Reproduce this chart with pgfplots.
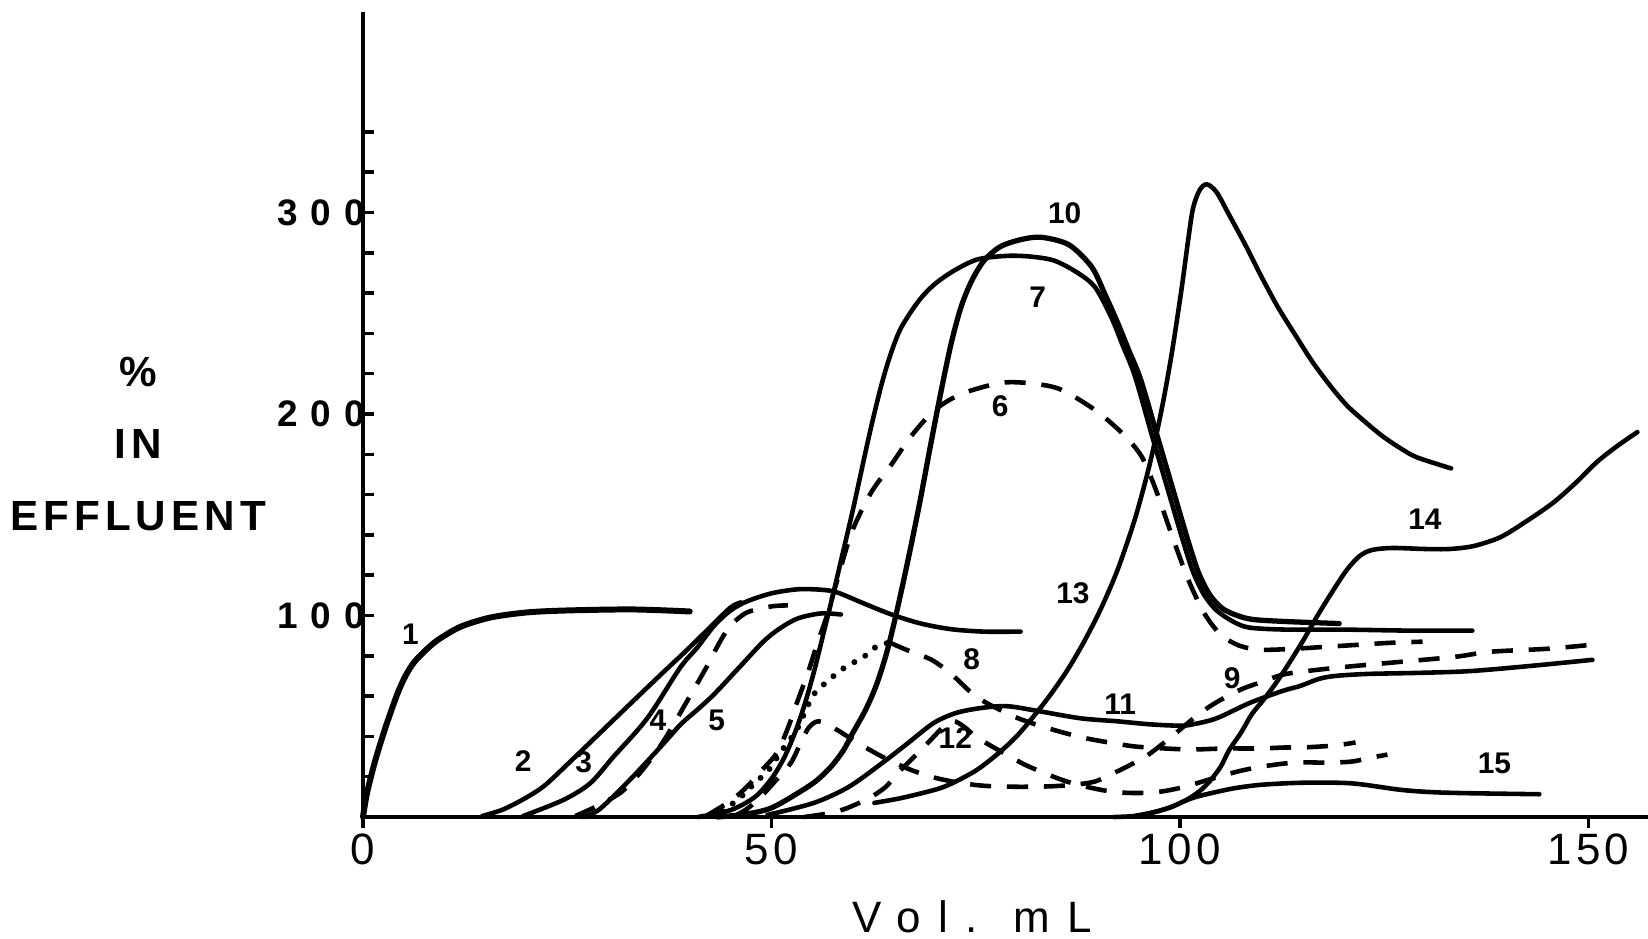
\documentclass[border=0pt]{standalone}
\usepackage{fontspec}
\setmainfont{Liberation Sans}
\newfontfamily\ticky[LetterSpace=35]{Liberation Sans}
\newfontfamily\tickx[LetterSpace=10]{Liberation Sans}
\newfontfamily\lab[LetterSpace=12]{Liberation Sans}
\newfontfamily\xlab[LetterSpace=40]{Liberation Sans}
\usepackage{pgfplots}
\pgfplotsset{compat=1.18}

\pgfplotsset{
  crv/.style={black, line width=1.3pt, line join=round, line cap=round, smooth},
  dsh/.style={crv, dash pattern=on 6pt off 4.5pt, line cap=butt},
  dts/.style={crv, line width=1.7pt, dash pattern=on 0pt off 3.6pt, line cap=round},
}
\tikzset{num/.style={font=\fontsize{8.5}{9}\selectfont\bfseries, inner sep=0pt}}

\begin{document}
\begin{tikzpicture}
\useasboundingbox (-3.63,-1.21) rectangle (12.85,8.17);
\begin{axis}[
  at={(0,0)}, anchor=south west,
  scale only axis, width=12.85cm, height=8.05cm,
  xmin=0, xmax=157.3, ymin=0, ymax=399.5,
  axis x line*=bottom, axis y line*=left,
  axis line style={-, line width=1.4pt},
  xtick={0,50,100,150}, xticklabels={0,50,100,150},
  ytick={100,200,300}, yticklabels={100,200,300},
  minor ytick={20,40,60,80,120,140,160,180,220,240,260,280,320,340},
  xtick align=outside, ytick align=inside,
  major tick length=0.11cm, minor tick length=0.11cm,
  tick style={line width=1pt, black},
  xticklabel style={font=\fontsize{12.5}{12}\tickx, yshift=0.07cm},
  yticklabel style={font=\fontsize{10.5}{12}\ticky\bfseries, xshift=0.14cm},
  xlabel={Vol.\hspace{0.8em}mL},
  xlabel style={font=\fontsize{12.5}{14}\xlab, at={(axis description cs:0.474,-0.124)}, anchor=center},
  ylabel={\%\\IN\\EFFLUENT},
  ylabel style={rotate=-90, font=\fontsize{12}{20.5}\lab\bfseries, align=center,
    at={(axis description cs:-0.175,0.463)}, anchor=center},
  clip=false,
]
% 1
\addplot[crv, line width=1.7pt] coordinates {(0,0) (0.5,12) (1.5,28) (2.8,45) (4.2,61) (5.2,70) (6.3,77) (8,84) (9.4,88.5) (12,94.5) (15.6,99) (20,101.5) (25,102.5) (33,103) (40,102)};
% 2
\addplot[crv] coordinates {(14.6,0.5) (17,3.5) (19.5,8.5) (22.2,15.5) (25.5,28) (28.7,40.5) (32.8,56.5) (36.8,72) (39.3,81.5) (42.2,93) (45,104) (46.3,106.5)};
% 3
\addplot[crv] coordinates {(19.6,0.5) (24.5,8.4) (27.8,16.7) (30.6,29.6) (34.8,49) (38.8,74) (40.9,84) (43,95) (45,102.5) (47,107) (50,111) (53.2,113) (56,112.8) (58,111.5) (61.3,106) (64.7,100.5) (68.3,96) (72,93.2) (76,92) (80.5,92)};
% 4
\addplot[dsh] coordinates {(26,0.5) (28.7,5.5) (31.5,12) (33.5,20) (35.2,28.5) (37,39) (39.6,57) (42,74) (43.7,87) (45,95) (47,101.5) (50,104.5) (52,105)};
% 5
\addplot[crv] coordinates {(27,0) (29,4) (32.8,19) (36.8,36.5) (38.9,46) (41,53.5) (43,61) (46,74) (49,87) (51,93.5) (53.2,98.5) (56,101) (58.5,100.5)};
% 6
\addplot[dsh] coordinates {(42,0.5) (45,8) (47,15) (49,24) (50.7,32) (52,44) (53.2,57.6) (54.5,72) (55.6,86) (56.8,100) (57.8,114) (59.8,141) (62.2,161) (64.7,175) (67.1,189) (70,202) (73.3,210) (78.2,215.5) (82.2,215) (85.5,212) (89.6,202) (92.9,190.6) (95.3,179) (97,163) (99,140) (101,118) (103,101) (105,90.5) (107.3,85) (110,83) (114,83.5) (118,84.5) (122,85.5) (126,86.5) (129.7,87)};
% 7
\addplot[crv] coordinates {(41,0) (45,3.4) (48,10) (50,19) (51.5,29) (52.8,41) (54,55) (55.2,72) (56.3,90) (57.4,108) (58.5,127) (60,153) (62,190) (63.5,215) (64.7,231) (65.9,243) (68,256) (70,264.5) (72.5,271.5) (75.3,276.8) (79,278.5) (82,278) (84.7,276) (87.5,270) (89.6,263) (91.6,248) (93,234) (94.5,218.7) (96.6,189) (98.7,160) (100.3,138) (101.6,121.7) (103,110) (104.5,102.5) (106.5,97) (108.5,94) (113,93) (120,93) (128,92.5) (135.8,92.5)};
% 10
\addplot[crv, line width=1.5pt] coordinates {(43.4,0) (47,1.5) (50,4.5) (53.2,11.8) (55.5,18) (57.3,25) (58.8,33) (60,42) (61.5,53) (62.8,65) (64,80) (65,96) (66,114) (67,133) (68.2,157) (69.5,185) (70.8,212) (72,235) (73.2,253) (74.5,266) (76,276) (78,283) (80.5,286.5) (83,287.7) (86.4,284) (89.2,273) (90.8,259.6) (92.3,246) (93.7,232) (95.2,217) (97.3,188) (99.4,159) (101,137) (102.3,121) (103.7,110) (105.2,103.5) (107,100) (109,98) (113,97) (119.5,96)};
% 8
\addplot[dts] coordinates {(44,3) (46,9) (48,17) (49.6,23) (51,31.5) (52.2,38) (53.2,44) (54.2,53) (55.2,61) (56.9,67.5) (58.9,74) (61.3,79.5) (63,85) (64.5,86.5)};
\addplot[dsh] coordinates {(64.5,86.5) (66.5,83) (69.6,78) (72,71) (74.5,61.6) (76.6,56) (80.2,49) (83.9,44) (88,39.5) (91.3,37) (94.5,35) (98.2,34) (101.5,33.5) (105.5,34) (109.7,34) (112.9,34.5) (115,34.5) (119,35.5) (121.5,37)};
% 9
\addplot[dsh] coordinates {(45.5,0.5) (47,4) (48.7,10) (50.5,18) (52.4,27) (53.6,37) (54.6,44.5) (55.8,47.5) (57.7,44) (59.5,39.5) (61.3,35) (64,29) (67,23.5) (70,19.5) (73,17) (76,15.5) (80,15) (84,15.2) (87,16) (89.5,17.5) (91.5,21) (94,26) (96,30.5) (98.4,38) (100.2,44) (102.3,51) (104.5,57) (107.6,63.5) (110.4,67.5) (113,71) (119,74) (127,77) (133.7,79.5) (138,82) (145,83.5) (151,85.7)};
% 11
\addplot[crv] coordinates {(49.5,1) (55.2,7) (59.4,14.8) (63.3,26) (66.5,36) (69.8,46.5) (72.5,51.5) (75.5,54) (78.8,55) (82.5,52.7) (87.8,49) (92.3,47.5) (96.3,46) (100,45.3) (101.6,46) (104.5,49) (108.6,56.7) (112.6,62.6) (114.7,65) (117,68.5) (119,70) (123,71) (129,71.5) (135.5,72.4) (143,75) (150.5,78)};
% 12
\addplot[dsh] coordinates {(54,0) (56.5,1.5) (59,4) (62,9.5) (64,15) (65.5,22) (67.5,30) (69.2,37) (71,44.5) (72.3,47.5) (73.5,45) (75,40) (77,35) (79,30.5) (81,26) (83,22.5) (85.5,18.5) (88,15.5) (91,13) (93.5,12) (96,12) (98,12.8) (100.6,15) (103.5,18.5) (107,22.5) (110,25) (114,27) (118,27) (121,27.5) (123.5,29.5) (125.4,31)};
% 13
\addplot[crv] coordinates {(62.6,7) (66,9.5) (70,13.5) (72,16.5) (75,23) (77.6,31) (80,40) (82.3,51) (84.3,61.5) (86.4,74) (88.4,88) (90.4,104) (92.4,123) (94.5,148) (96.3,175) (97.8,203) (99,230) (100.2,262) (101,286) (101.6,302) (102.4,311) (103.3,314) (104.5,310) (106,299) (108,284) (110,268) (112,253) (114,240) (116.2,226) (118.5,213.5) (120.5,204) (122.7,196) (124.8,189) (127,183) (129,178.5) (133.2,173)};
% 14
\addplot[crv] coordinates {(92,0) (94.5,0.5) (96.6,2.2) (98.6,4.5) (100.6,8) (102.3,12.5) (103.6,17.5) (105,25) (106,33) (107.5,42) (108.8,51) (110.2,58) (111.5,65) (113,74) (115,87) (117,101) (119,114) (120.5,123) (122,129.5) (123.5,132.5) (126,133.5) (130,133) (133,133) (136,134.5) (139.3,139) (142.5,147) (145.7,156) (148.5,166) (151,176) (153.5,184) (156,191)};
% 15
\addplot[crv] coordinates {(94.5,0.5) (97,2.5) (99,5) (100.6,8) (102,10) (104,12) (106.7,14.3) (110,16) (115,17) (121,16.7) (127,13.5) (131,12.3) (135.5,11.8) (144,11.3)};

\node[num] at (5.8,90.6) {1};
\node[num] at (19.6,28) {2};
\node[num] at (27,27) {3};
\node[num] at (36.1,47.8) {4};
\node[num] at (43.3,47.8) {5};
\node[num] at (78,204) {6};
\node[num] at (82.6,258) {7};
\node[num] at (74.5,78.3) {8};
\node[num] at (106.4,69) {9};
\node[num] at (85.9,299.5) {10};
\node[num] at (92.7,56) {11};
\node[num] at (72.5,39.4) {12};
\node[num] at (86.9,111) {13};
\node[num] at (130,148) {14};
\node[num] at (138.5,26.6) {15};
\end{axis}
\end{tikzpicture}
\end{document}
